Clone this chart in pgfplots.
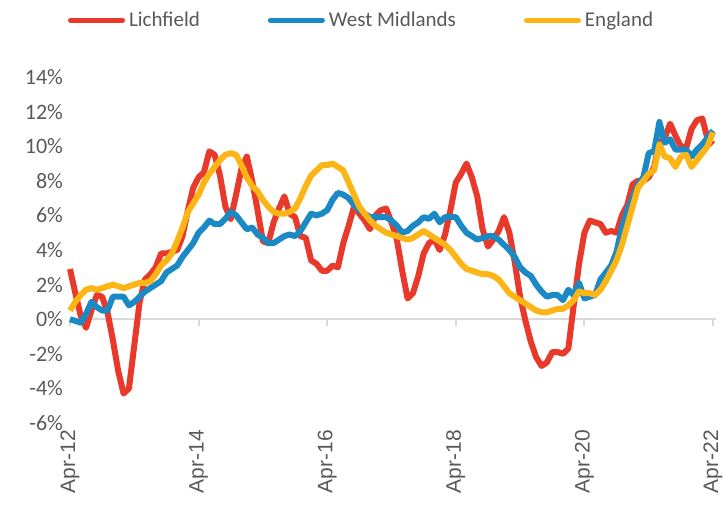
\documentclass[border=0pt]{standalone}
\usepackage{pgfplots}
\pgfplotsset{compat=1.18}
\usepackage{pgfplotstable}
\usepackage{fontspec}
\setmainfont{Carlito}
\newfontfamily\xfont{Liberation Sans}
\definecolor{cL}{HTML}{E8392A}
\definecolor{cW}{HTML}{1B8AC4}
\definecolor{cE}{HTML}{FDB415}
\definecolor{txt}{HTML}{595959}
\definecolor{zl}{HTML}{D9D9D9}
\pgfplotstableread{
m L W E
0 2.9 0.0 0.5
1 1.5 -0.1 1.0
2 0.2 -0.2 1.4
3 -0.5 0.3 1.7
4 0.5 1.0 1.8
5 1.4 0.7 1.7
6 1.3 0.5 1.8
7 0.4 0.5 1.9
8 -1.2 1.3 2.0
9 -3.0 1.3 1.9
10 -4.3 1.3 1.8
11 -4.0 0.8 1.9
12 -1.5 1.0 2.0
13 1.0 1.3 2.1
14 2.3 1.6 2.1
15 2.6 1.8 2.2
16 3.0 2.0 2.6
17 3.8 2.2 3.1
18 3.8 2.7 3.4
19 3.9 2.9 3.8
20 4.0 3.1 4.5
21 4.8 3.6 5.3
22 6.3 4.0 6.2
23 7.6 4.4 6.7
24 8.2 5.0 7.2
25 8.5 5.3 7.9
26 9.7 5.7 8.4
27 9.5 5.5 8.8
28 8.3 5.5 9.2
29 6.5 5.8 9.5
30 5.8 6.2 9.6
31 7.2 6.0 9.5
32 8.7 5.6 8.9
33 9.4 5.2 8.2
34 8.0 5.3 7.7
35 6.3 4.9 7.4
36 4.5 4.7 6.9
37 4.4 4.4 6.5
38 5.6 4.4 6.2
39 6.4 4.6 6.1
40 7.1 4.8 6.1
41 6.1 4.9 6.2
42 5.9 4.8 6.4
43 4.8 5.1 7.0
44 4.7 5.6 7.7
45 3.4 6.1 8.3
46 3.2 6.0 8.6
47 2.8 6.1 8.9
48 2.8 6.3 8.9
49 3.1 6.9 9.0
50 3.0 7.3 8.8
51 4.4 7.2 8.6
52 5.4 7.0 7.9
53 6.5 6.6 7.2
54 6.1 6.3 6.5
55 5.7 6.1 6.1
56 5.2 5.9 5.7
57 6.0 5.9 5.4
58 6.3 5.9 5.2
59 6.4 5.9 5.0
60 5.6 5.7 4.9
61 4.6 5.4 4.8
62 2.8 5.0 4.7
63 1.2 5.1 4.6
64 1.5 5.4 4.7
65 2.5 5.6 4.9
66 3.8 5.9 5.1
67 4.4 5.8 4.9
68 4.6 6.1 4.7
69 4.0 5.6 4.5
70 4.9 5.9 4.3
71 6.3 5.9 4.0
72 7.9 5.9 3.6
73 8.4 5.4 3.2
74 9.0 5.0 2.9
75 8.2 4.8 2.8
76 7.1 4.6 2.7
77 5.2 4.7 2.6
78 4.2 4.8 2.6
79 4.6 4.8 2.5
80 5.1 4.6 2.3
81 5.9 4.3 1.9
82 5.0 4.0 1.5
83 3.3 3.6 1.3
84 1.3 3.0 1.1
85 -0.1 2.7 0.9
86 -1.3 2.5 0.7
87 -2.2 2.0 0.5
88 -2.7 1.6 0.4
89 -2.5 1.3 0.4
90 -1.9 1.4 0.5
91 -1.9 1.4 0.6
92 -2.0 1.1 0.6
93 -1.7 1.7 0.8
94 0.8 1.4 1.1
95 3.2 2.1 1.6
96 5.0 1.2 1.5
97 5.7 1.3 1.5
98 5.6 1.4 1.4
99 5.5 2.3 1.7
100 5.0 2.7 2.2
101 5.1 3.1 2.8
102 5.0 3.9 3.4
103 6.0 5.3 4.3
104 6.6 6.3 5.4
105 7.8 7.0 6.5
106 8.0 7.8 7.6
107 8.0 8.2 8.0
108 8.2 9.6 8.4
109 8.8 9.7 8.6
110 10.2 11.4 10.1
111 10.5 10.2 9.4
112 11.3 10.4 9.3
113 10.6 9.8 8.8
114 10.0 9.8 9.4
115 9.9 9.8 9.5
116 11.0 9.4 8.8
117 11.5 9.8 9.2
118 11.6 10.1 9.6
119 10.4 10.5 10.0
120 10.1 10.9 10.8
}\data
\begin{document}
\begin{tikzpicture}
\useasboundingbox (-35bp,-41.5bp) rectangle (326.5bp,211.5bp);
\begin{axis}[
 at={(0,0)}, anchor=south west,
 scale only axis, width=321.5bp, height=173bp,
 xmin=0, xmax=120, ymin=-6, ymax=14,
 clip=false,
 axis line style={draw=none},
 tick style={draw=none},
 xtick={0,24,48,72,96,120},
 xticklabels={Apr-12,Apr-14,Apr-16,Apr-18,Apr-20,Apr-22},
 xticklabel style={rotate=90, anchor=east, font=\xfont\fontsize{10.5bp}{12bp}\selectfont, text=txt},
 ytick={-6,-4,-2,0,2,4,6,8,10,12,14},
 yticklabels={-6\%,-4\%,-2\%,0\%,2\%,4\%,6\%,8\%,10\%,12\%,14\%},
 yticklabel style={font=\fontsize{11bp}{13bp}\selectfont, text=txt},
 legend style={draw=none, at={(0.455,1.164)}, anchor=center, legend columns=3,
   font=\fontsize{10.5bp}{12bp}\selectfont, text=txt,
   nodes={inner xsep=2bp},
   /tikz/every even column/.append style={column sep=32bp}},
 legend image code/.code={\draw[#1, line width=2.5bp, line cap=round] (0bp,0bp) -- (26bp,0bp);},
]
\draw[zl, line width=1bp] (axis cs:0,0) -- (axis cs:120.5,0);
\draw[zl, line width=1bp] (axis cs:0,0) -- ([yshift=-3.5bp]axis cs:0,0);
\draw[zl, line width=1bp] (axis cs:24,0) -- ([yshift=-3.5bp]axis cs:24,0);
\draw[zl, line width=1bp] (axis cs:48,0) -- ([yshift=-3.5bp]axis cs:48,0);
\draw[zl, line width=1bp] (axis cs:72,0) -- ([yshift=-3.5bp]axis cs:72,0);
\draw[zl, line width=1bp] (axis cs:96,0) -- ([yshift=-3.5bp]axis cs:96,0);
\draw[zl, line width=1bp] (axis cs:120,0) -- ([yshift=-3.5bp]axis cs:120,0);
\addplot[cL, line width=3bp, line join=round] table[x=m,y=L]{\data};
\addlegendentry{Lichfield}
\addplot[cW, line width=3bp, line join=round] table[x=m,y=W]{\data};
\addlegendentry{West Midlands}
\addplot[cE, line width=3bp, line join=round] table[x=m,y=E]{\data};
\addlegendentry{England}
\end{axis}
\end{tikzpicture}
\end{document}
